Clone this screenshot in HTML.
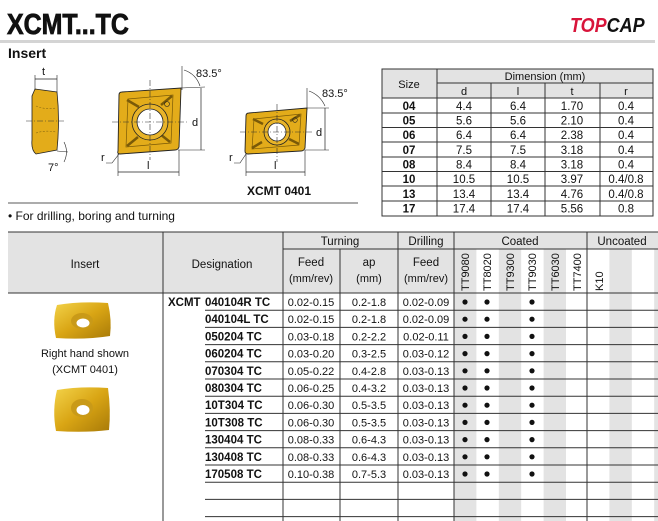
<!DOCTYPE html>
<html><head><meta charset="utf-8"><style>
html,body{margin:0;padding:0;background:#fff;width:658px;height:521px;overflow:hidden}
svg{display:block}
text{font-family:"Liberation Sans",sans-serif;fill:#111}
.b{font-weight:bold}
</style></head><body>
<svg width="658" height="521" viewBox="0 0 658 521" xmlns="http://www.w3.org/2000/svg">
<defs>
<linearGradient id="gold" x1="0" y1="0" x2="1" y2="1">
<stop offset="0" stop-color="#f3d34a"/><stop offset="0.5" stop-color="#d9a514"/><stop offset="1" stop-color="#a87a08"/>
</linearGradient>
</defs>
<!-- title -->
<text x="7" y="34" class="b" font-size="29" stroke="#111" stroke-width="0.8" transform="translate(7 0) scale(0.86 1) translate(-7 0)">XCMT...TC</text>
<text x="570" y="32" font-size="20" font-style="italic" class="b" fill="#d8143a" style="fill:#d8143a" transform="translate(570 0) scale(0.9 1) translate(-570 0)">TOP<tspan style="fill:#111">CAP</tspan></text>
<rect x="0" y="40" width="655" height="3" fill="#d4d4d4"/>
<text x="8" y="58" class="b" font-size="14">Insert</text>

<!-- side view -->
<path d="M35,89 L57,92 Q60,120 57,150 L36,154 Q31,150 32,140 L32,96 Z" fill="#e3ac1a" stroke="#222" stroke-width="0.8"/>
<path d="M36,106 Q45,110 56,108 M36,133 Q45,130 56,132" fill="none" stroke="#8a6a10" stroke-width="0.6" stroke-dasharray="2,1.5"/>
<line x1="26" y1="121" x2="64" y2="121" stroke="#333" stroke-width="0.6" stroke-dasharray="6,2,1,2"/>
<line x1="35" y1="75" x2="35" y2="90" stroke="#222" stroke-width="0.6"/>
<line x1="57" y1="75" x2="57" y2="92" stroke="#222" stroke-width="0.6"/>
<line x1="35" y1="79" x2="57" y2="79" stroke="#222" stroke-width="0.7"/>
<text x="42" y="75" font-size="11">t</text>
<line x1="57" y1="151" x2="68" y2="152" stroke="#222" stroke-width="0.6"/>
<path d="M64,142 Q69,152 64,162" fill="none" stroke="#222" stroke-width="0.6"/>
<text x="48" y="171" font-size="11">7°</text>

<!-- main insert -->
<line x1="182" y1="66" x2="182" y2="90" stroke="#222" stroke-width="0.6"/>
<path d="M184,70 Q196,74 200,86" fill="none" stroke="#222" stroke-width="0.6"/>
<text x="196" y="77" font-size="11">83.5°</text>
<path d="M122,92 L181,88 L179,147 Q178,150 175,150 L120,154 Q117,154 118,151 L119,95 Q119,92 122,92 Z" fill="#e3ac1a" stroke="#222" stroke-width="0.9"/>
<path d="M128,99 L173,95 L171,143 L126,147 Z" fill="none" stroke="#7a5a08" stroke-width="0.7"/>
<path d="M127,100 L139,107 M172,96 L161,105 M170,142 L160,134 M127,146 L138,137" stroke="#7a5a08" stroke-width="2.5"/>
<circle cx="150" cy="122" r="18" fill="#e8b42a" stroke="#222" stroke-width="0.8"/>
<circle cx="150" cy="122" r="13" fill="#fff" stroke="#222" stroke-width="0.8"/>
<circle cx="167" cy="104" r="2.5" fill="none" stroke="#222" stroke-width="0.6"/>
<line x1="112" y1="122" x2="188" y2="122" stroke="#333" stroke-width="0.6" stroke-dasharray="6,2,1,2"/>
<line x1="150" y1="80" x2="150" y2="160" stroke="#333" stroke-width="0.6" stroke-dasharray="6,2,1,2"/>
<line x1="181" y1="88" x2="205" y2="87" stroke="#222" stroke-width="0.6"/>
<line x1="178" y1="150" x2="205" y2="150" stroke="#222" stroke-width="0.6"/>
<line x1="201" y1="88" x2="201" y2="150" stroke="#222" stroke-width="0.7"/>
<text x="192" y="126" font-size="11">d</text>
<line x1="118" y1="154" x2="118" y2="176" stroke="#222" stroke-width="0.6"/>
<line x1="179" y1="150" x2="179" y2="176" stroke="#222" stroke-width="0.6"/>
<line x1="118" y1="172" x2="179" y2="172" stroke="#222" stroke-width="0.7"/>
<text x="147" y="169" font-size="11">l</text>
<text x="101" y="161" font-size="11">r</text>
<path d="M106,163 L112,163 L119,154" fill="none" stroke="#222" stroke-width="0.6"/>

<!-- second insert -->
<line x1="307" y1="88" x2="307" y2="110" stroke="#222" stroke-width="0.6"/>
<path d="M309,91 Q320,95 325,106" fill="none" stroke="#222" stroke-width="0.6"/>
<text x="322" y="97" font-size="11">83.5°</text>
<path d="M249,113 L307,108 L305,148 Q304,151 301,151 L248,154 Q245,154 245,151 L246,116 Q246,113 249,113 Z" fill="#e3ac1a" stroke="#222" stroke-width="0.9"/>
<path d="M254,119 L301,114 L299,145 L252,149 Z" fill="none" stroke="#7a5a08" stroke-width="0.7"/>
<path d="M253,119 L263,124 M300,115 L290,121 M299,144 L289,139 M252,148 L262,142" stroke="#7a5a08" stroke-width="2.5"/>
<circle cx="277" cy="132" r="13" fill="#e8b42a" stroke="#222" stroke-width="0.8"/>
<circle cx="277" cy="132" r="9" fill="#fff" stroke="#222" stroke-width="0.8"/>
<circle cx="295" cy="120" r="2.3" fill="none" stroke="#222" stroke-width="0.6"/>
<line x1="240" y1="132" x2="313" y2="132" stroke="#333" stroke-width="0.6" stroke-dasharray="6,2,1,2"/>
<line x1="277" y1="104" x2="277" y2="162" stroke="#333" stroke-width="0.6" stroke-dasharray="6,2,1,2"/>
<line x1="307" y1="108" x2="329" y2="108" stroke="#222" stroke-width="0.6"/>
<line x1="305" y1="150" x2="329" y2="150" stroke="#222" stroke-width="0.6"/>
<line x1="325" y1="108" x2="325" y2="150" stroke="#222" stroke-width="0.7"/>
<text x="316" y="136" font-size="11">d</text>
<line x1="246" y1="154" x2="246" y2="176" stroke="#222" stroke-width="0.6"/>
<line x1="305" y1="150" x2="305" y2="176" stroke="#222" stroke-width="0.6"/>
<line x1="246" y1="172" x2="305" y2="172" stroke="#222" stroke-width="0.7"/>
<text x="274" y="169" font-size="11">l</text>
<text x="229" y="161" font-size="11">r</text>
<path d="M234,163 L240,163 L246,154" fill="none" stroke="#222" stroke-width="0.6"/>
<text x="247" y="195" class="b" font-size="12">XCMT 0401</text>

<line x1="8" y1="203" x2="358" y2="203" stroke="#222" stroke-width="0.8"/>
<text x="8" y="220" font-size="12">• For drilling, boring and turning</text>

<!-- top dimension table -->
<rect x="382" y="69" width="271" height="29" fill="#e3e3e3"/>
<g stroke="#333" stroke-width="1" fill="none">
<rect x="382" y="69" width="271" height="147"/>
<line x1="437" y1="83" x2="653" y2="83"/>
<line x1="382" y1="98" x2="653" y2="98"/>
<line x1="437" y1="69" x2="437" y2="216"/>
<line x1="491" y1="83" x2="491" y2="216"/>
<line x1="545" y1="83" x2="545" y2="216"/>
<line x1="600" y1="83" x2="600" y2="216"/>
<line x1="382" y1="113" x2="653" y2="113"/><line x1="382" y1="127.5" x2="653" y2="127.5"/>
<line x1="382" y1="142" x2="653" y2="142"/><line x1="382" y1="157" x2="653" y2="157"/>
<line x1="382" y1="171.5" x2="653" y2="171.5"/><line x1="382" y1="186" x2="653" y2="186"/>
<line x1="382" y1="201" x2="653" y2="201"/>
</g>
<g font-size="11" text-anchor="middle">
<text x="409" y="88">Size</text><text x="545" y="80">Dimension (mm)</text>
<text x="464" y="95">d</text><text x="518" y="95">l</text><text x="572" y="95">t</text><text x="626" y="95">r</text>
</g>
<g font-size="11.5" text-anchor="middle">
<g class="b"><text x="409" y="110">04</text><text x="409" y="124.5">05</text><text x="409" y="139">06</text><text x="409" y="154">07</text><text x="409" y="168.5">08</text><text x="409" y="183">10</text><text x="409" y="198">13</text><text x="409" y="212.5">17</text></g>
<text x="464" y="110">4.4</text><text x="518" y="110">6.4</text><text x="572" y="110">1.70</text><text x="626" y="110">0.4</text>
<text x="464" y="124.5">5.6</text><text x="518" y="124.5">5.6</text><text x="572" y="124.5">2.10</text><text x="626" y="124.5">0.4</text>
<text x="464" y="139">6.4</text><text x="518" y="139">6.4</text><text x="572" y="139">2.38</text><text x="626" y="139">0.4</text>
<text x="464" y="154">7.5</text><text x="518" y="154">7.5</text><text x="572" y="154">3.18</text><text x="626" y="154">0.4</text>
<text x="464" y="168.5">8.4</text><text x="518" y="168.5">8.4</text><text x="572" y="168.5">3.18</text><text x="626" y="168.5">0.4</text>
<text x="464" y="183">10.5</text><text x="518" y="183">10.5</text><text x="572" y="183">3.97</text><text x="626" y="183">0.4/0.8</text>
<text x="464" y="198">13.4</text><text x="518" y="198">13.4</text><text x="572" y="198">4.76</text><text x="626" y="198">0.4/0.8</text>
<text x="464" y="212.5">17.4</text><text x="518" y="212.5">17.4</text><text x="572" y="212.5">5.56</text><text x="626" y="212.5">0.8</text>
</g>

<!-- bottom table -->
<rect x="8" y="232" width="650" height="61" fill="#e3e3e3"/>
<rect x="454" y="249" width="204" height="44" fill="#fff"/>
<g fill="#e3e3e3">
<rect x="454" y="249" width="22.4" height="272"/>
<rect x="498.8" y="249" width="22.4" height="272"/>
<rect x="543.6" y="249" width="22.4" height="272"/>
<rect x="609.4" y="249" width="22.4" height="272"/>
<rect x="654.2" y="249" width="4" height="272"/>
</g>
<g stroke="#333" stroke-width="1" fill="none">
<line x1="8" y1="232" x2="658" y2="232"/>
<line x1="283" y1="249" x2="658" y2="249"/>
<line x1="8" y1="293" x2="658" y2="293"/>
<line x1="163" y1="232" x2="163" y2="521"/>
<line x1="283" y1="232" x2="283" y2="521"/>
<line x1="340" y1="249" x2="340" y2="521"/>
<line x1="398" y1="232" x2="398" y2="521"/>
<line x1="454" y1="232" x2="454" y2="521"/>
<line x1="587" y1="232" x2="587" y2="521"/>
</g>
<g stroke="#333" stroke-width="1">
<line x1="205" y1="310.2" x2="658" y2="310.2"/><line x1="205" y1="327.4" x2="658" y2="327.4"/>
<line x1="205" y1="344.6" x2="658" y2="344.6"/><line x1="205" y1="361.8" x2="658" y2="361.8"/>
<line x1="205" y1="379" x2="658" y2="379"/><line x1="205" y1="396.2" x2="658" y2="396.2"/>
<line x1="205" y1="413.4" x2="658" y2="413.4"/><line x1="205" y1="430.6" x2="658" y2="430.6"/>
<line x1="205" y1="447.8" x2="658" y2="447.8"/><line x1="205" y1="465" x2="658" y2="465"/>
<line x1="205" y1="482.2" x2="658" y2="482.2"/><line x1="205" y1="499.4" x2="658" y2="499.4"/>
<line x1="205" y1="516.6" x2="658" y2="516.6"/>
</g>
<g font-size="11.5" text-anchor="middle">
<text x="85" y="268">Insert</text><text x="222" y="268">Designation</text>
<text x="340" y="245">Turning</text><text x="426" y="245">Drilling</text>
<text x="520" y="245">Coated</text><text x="622" y="245">Uncoated</text>
<text x="311" y="266">Feed</text><text x="311" y="282" font-size="11">(mm/rev)</text>
<text x="369" y="266">ap</text><text x="369" y="282" font-size="11">(mm)</text>
<text x="426" y="266">Feed</text><text x="426" y="282" font-size="11">(mm/rev)</text>
</g>
<g font-size="11">
<text transform="translate(469 291) rotate(-90)">TT9080</text>
<text transform="translate(491 291) rotate(-90)">TT8020</text>
<text transform="translate(514 291) rotate(-90)">TT9300</text>
<text transform="translate(536 291) rotate(-90)">TT9030</text>
<text transform="translate(559 291) rotate(-90)">TT6030</text>
<text transform="translate(581 291) rotate(-90)">TT7400</text>
<text transform="translate(603 291) rotate(-90)">K10</text>
</g>
<!-- photos -->
<path d="M57,305 Q80,301 108,303 Q112,320 110,336 Q85,340 56,338 Q52,320 57,305 Z" fill="url(#gold)"/>
<ellipse cx="82" cy="321" rx="11" ry="8" fill="#c99a18"/><ellipse cx="83" cy="323" rx="6.5" ry="4.5" fill="#fff"/>
<path d="M57,390 Q80,386 108,388 Q111,410 109,430 Q85,433 56,431 Q52,410 57,390 Z" fill="url(#gold)"/>
<ellipse cx="82" cy="408" rx="11" ry="9" fill="#c99a18"/><ellipse cx="83" cy="410" rx="6.5" ry="5" fill="#fff"/>
<g font-size="11" text-anchor="middle">
<text x="85" y="357">Right hand shown</text><text x="85" y="373">(XCMT 0401)</text>
</g>
<g font-size="11.5" class="b">
<text x="168" y="306">XCMT</text>
<text x="205" y="306">040104R TC</text><text x="205" y="323.2">040104L TC</text>
<text x="205" y="340.4">050204 TC</text><text x="205" y="357.6">060204 TC</text>
<text x="205" y="374.8">070304 TC</text><text x="205" y="392">080304 TC</text>
<text x="205" y="409.2">10T304 TC</text><text x="205" y="426.4">10T308 TC</text>
<text x="205" y="443.6">130404 TC</text><text x="205" y="460.8">130408 TC</text>
<text x="205" y="478">170508 TC</text>
</g>
<g font-size="11" text-anchor="middle">
<text x="311" y="306">0.02-0.15</text><text x="369" y="306">0.2-1.8</text><text x="426" y="306">0.02-0.09</text>
<text x="311" y="323.2">0.02-0.15</text><text x="369" y="323.2">0.2-1.8</text><text x="426" y="323.2">0.02-0.09</text>
<text x="311" y="340.4">0.03-0.18</text><text x="369" y="340.4">0.2-2.2</text><text x="426" y="340.4">0.02-0.11</text>
<text x="311" y="357.6">0.03-0.20</text><text x="369" y="357.6">0.3-2.5</text><text x="426" y="357.6">0.03-0.12</text>
<text x="311" y="374.8">0.05-0.22</text><text x="369" y="374.8">0.4-2.8</text><text x="426" y="374.8">0.03-0.13</text>
<text x="311" y="392">0.06-0.25</text><text x="369" y="392">0.4-3.2</text><text x="426" y="392">0.03-0.13</text>
<text x="311" y="409.2">0.06-0.30</text><text x="369" y="409.2">0.5-3.5</text><text x="426" y="409.2">0.03-0.13</text>
<text x="311" y="426.4">0.06-0.30</text><text x="369" y="426.4">0.5-3.5</text><text x="426" y="426.4">0.03-0.13</text>
<text x="311" y="443.6">0.08-0.33</text><text x="369" y="443.6">0.6-4.3</text><text x="426" y="443.6">0.03-0.13</text>
<text x="311" y="460.8">0.08-0.33</text><text x="369" y="460.8">0.6-4.3</text><text x="426" y="460.8">0.03-0.13</text>
<text x="311" y="478">0.10-0.38</text><text x="369" y="478">0.7-5.3</text><text x="426" y="478">0.03-0.13</text>
</g>
<g fill="#111">
<circle cx="465" cy="302" r="2.6"/><circle cx="487" cy="302" r="2.6"/><circle cx="532" cy="302" r="2.6"/>
<circle cx="465" cy="319.2" r="2.6"/><circle cx="487" cy="319.2" r="2.6"/><circle cx="532" cy="319.2" r="2.6"/>
<circle cx="465" cy="336.4" r="2.6"/><circle cx="487" cy="336.4" r="2.6"/><circle cx="532" cy="336.4" r="2.6"/>
<circle cx="465" cy="353.6" r="2.6"/><circle cx="487" cy="353.6" r="2.6"/><circle cx="532" cy="353.6" r="2.6"/>
<circle cx="465" cy="370.8" r="2.6"/><circle cx="487" cy="370.8" r="2.6"/><circle cx="532" cy="370.8" r="2.6"/>
<circle cx="465" cy="388" r="2.6"/><circle cx="487" cy="388" r="2.6"/><circle cx="532" cy="388" r="2.6"/>
<circle cx="465" cy="405.2" r="2.6"/><circle cx="487" cy="405.2" r="2.6"/><circle cx="532" cy="405.2" r="2.6"/>
<circle cx="465" cy="422.4" r="2.6"/><circle cx="487" cy="422.4" r="2.6"/><circle cx="532" cy="422.4" r="2.6"/>
<circle cx="465" cy="439.6" r="2.6"/><circle cx="487" cy="439.6" r="2.6"/><circle cx="532" cy="439.6" r="2.6"/>
<circle cx="465" cy="456.8" r="2.6"/><circle cx="487" cy="456.8" r="2.6"/><circle cx="532" cy="456.8" r="2.6"/>
<circle cx="465" cy="474" r="2.6"/><circle cx="487" cy="474" r="2.6"/><circle cx="532" cy="474" r="2.6"/>
</g>
</svg>
</body></html>
